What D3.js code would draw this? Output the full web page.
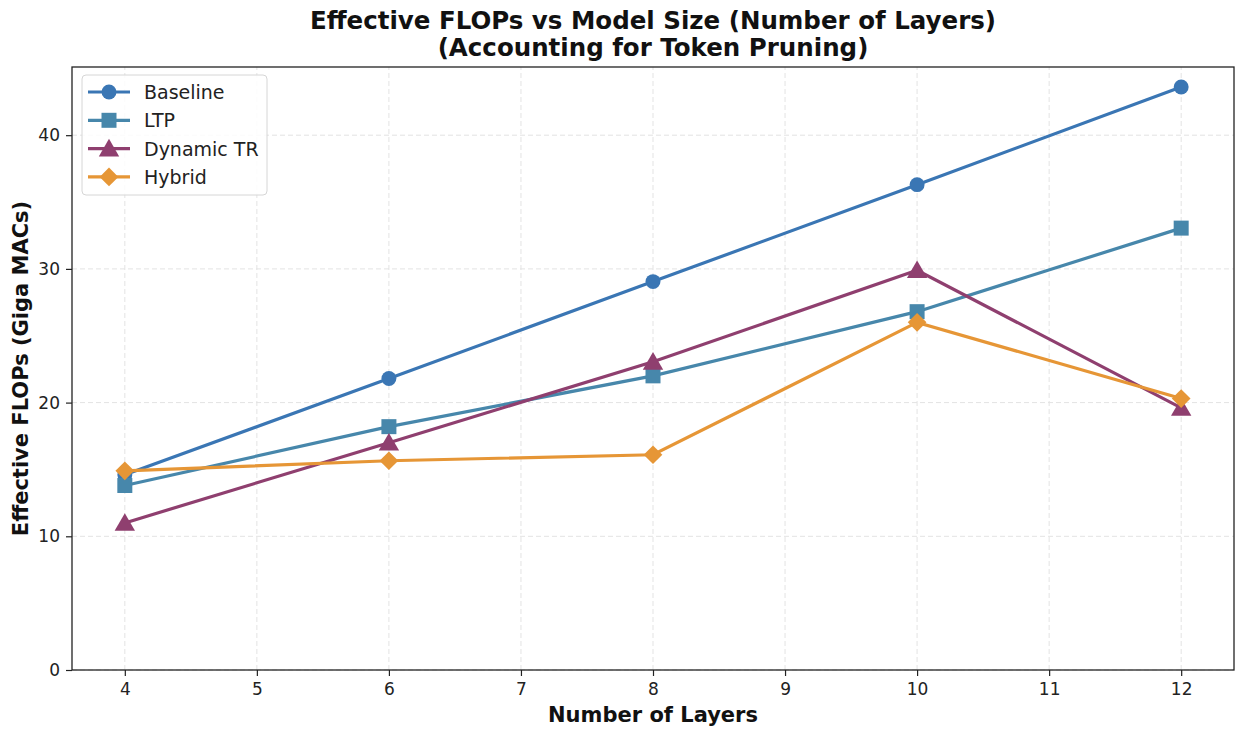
<!DOCTYPE html>
<html>
<head>
<meta charset="utf-8">
<script src="https://cdn.jsdelivr.net/npm/d3@7"></script>
<style>
  body { margin: 0; background: #fff; }
  svg { font-family: "DejaVu Sans", sans-serif; }
</style>
</head>
<body>
<svg id="chart" width="1248" height="740"></svg>
<script>
// layer counts on the x axis
const layers = [4, 6, 8, 10, 12];

// effective FLOPs (Giga MACs) per method
const baseline = [14.6, 21.8, 29.05, 36.3, 43.6];
const ltp = [13.8, 18.2, 22.0, 26.8, 33.05];
const dynamicTR = [11.0, 17.0, 23.05, 29.9, 19.6];
const hybrid = [14.9, 15.65, 16.1, 26.0, 20.3];

const seriesNames = ["Baseline", "LTP", "Dynamic TR", "Hybrid"];
const seriesColors = ["#3a76b4", "#4787ab", "#8f3f6f", "#e69636"];
const seriesShapes = ["circle", "square", "triangle", "diamond"];

const xTicks = [4, 5, 6, 7, 8, 9, 10, 11, 12];
const yTicks = [0, 10, 20, 30, 40];

const series = seriesNames.map((name, i) => ({
  name,
  color: seriesColors[i],
  shape: seriesShapes[i],
  values: [baseline, ltp, dynamicTR, hybrid][i]
}));

const svg = d3.select("#chart");
const margin = { left: 72, right: 14, top: 67, bottom: 70 };
const width = 1248, height = 740;

const x = d3.scaleLinear().domain([3.6, 12.4]).range([margin.left, width - margin.right]);
const y = d3.scaleLinear().domain([0, 45.1]).range([height - margin.bottom, margin.top]);

// Grid
const grid = svg.append("g");
xTicks.forEach(t => {
  grid.append("line")
    .attr("x1", x(t)).attr("x2", x(t))
    .attr("y1", y.range()[0]).attr("y2", y.range()[1])
    .attr("stroke", "#e3e3e3").attr("stroke-dasharray", "5,3").attr("stroke-width", 1);
});
yTicks.forEach(t => {
  grid.append("line")
    .attr("x1", x.range()[0]).attr("x2", x.range()[1])
    .attr("y1", y(t)).attr("y2", y(t))
    .attr("stroke", "#e3e3e3").attr("stroke-dasharray", "5,3").attr("stroke-width", 1);
});

// Axes
const xAxis = svg.append("g")
  .attr("transform", `translate(0,${height - margin.bottom})`)
  .call(d3.axisBottom(x).tickValues(xTicks).tickSize(6).tickPadding(7).tickFormat(d3.format("d")));
const yAxis = svg.append("g")
  .attr("transform", `translate(${margin.left},0)`)
  .call(d3.axisLeft(y).tickValues(yTicks).tickSize(6).tickPadding(6));
[xAxis, yAxis].forEach(a => {
  a.select(".domain").remove();
  a.selectAll("line").attr("stroke", "#222").attr("stroke-width", 1.2);
  a.selectAll("text").attr("font-size", "17px").attr("fill", "#222").attr("font-family", "DejaVu Sans");
});

// Frame
svg.append("rect")
  .attr("x", margin.left).attr("y", margin.top)
  .attr("width", width - margin.right - margin.left)
  .attr("height", height - margin.bottom - margin.top)
  .attr("fill", "none").attr("stroke", "#222").attr("stroke-width", 1.3);

const symbolFor = {
  circle: d3.symbol().type(d3.symbolCircle).size(175),
  square: d3.symbol().type(d3.symbolSquare).size(225),
  triangle: d3.symbol().type(d3.symbolTriangle).size(180),
  diamond: d3.symbol().type(d3.symbolSquare).size(175)
};

function drawMarker(g, shape, cx, cy, color) {
  const p = g.append("path")
    .attr("d", symbolFor[shape]())
    .attr("fill", color);
  if (shape === "diamond") p.attr("transform", `translate(${cx},${cy}) rotate(45)`);
  else if (shape === "triangle") p.attr("transform", `translate(${cx},${cy + 2})`);
  else p.attr("transform", `translate(${cx},${cy})`);
}

const line = d3.line().x((d, i) => x(layers[i])).y(d => y(d));

series.forEach(s => {
  const g = svg.append("g");
  g.append("path")
    .attr("d", line(s.values))
    .attr("fill", "none")
    .attr("stroke", s.color)
    .attr("stroke-width", 3.2);
  s.values.forEach((v, i) => drawMarker(g, s.shape, x(layers[i]), y(v), s.color));
});

// Legend
const leg = svg.append("g").attr("transform", "translate(82,75)");
leg.append("rect")
  .attr("width", 185).attr("height", 120).attr("rx", 4)
  .attr("fill", "#fff").attr("fill-opacity", 0.85)
  .attr("stroke", "#d6d6d6");
series.forEach((s, i) => {
  const ly = 17 + i * 28.3;
  leg.append("line")
    .attr("x1", 6).attr("x2", 48).attr("y1", ly).attr("y2", ly)
    .attr("stroke", s.color).attr("stroke-width", 3.2);
  drawMarker(leg, s.shape, 27, ly, s.color);
  leg.append("text")
    .attr("x", 62).attr("y", ly + 7)
    .attr("font-size", "19px").attr("fill", "#222")
    .text(s.name);
});

// Title
const cx = (margin.left + width - margin.right) / 2;
const title = svg.append("text")
  .attr("x", cx)
  .attr("text-anchor", "middle")
  .attr("font-size", "24.5px").attr("font-weight", "bold").attr("fill", "#111");
title.append("tspan").attr("x", cx).attr("y", 29)
  .text("Effective FLOPs vs Model Size (Number of Layers)");
title.append("tspan").attr("x", cx).attr("y", 56)
  .text("(Accounting for Token Pruning)");

// Axis labels
svg.append("text")
  .attr("x", cx).attr("y", 722)
  .attr("text-anchor", "middle")
  .attr("font-size", "21px").attr("font-weight", "bold").attr("fill", "#111")
  .text("Number of Layers");
svg.append("text")
  .attr("transform", `translate(28,${(margin.top + height - margin.bottom) / 2}) rotate(-90)`)
  .attr("text-anchor", "middle")
  .attr("font-size", "21px").attr("font-weight", "bold").attr("fill", "#111")
  .text("Effective FLOPs (Giga MACs)");
</script>
</body>
</html>
